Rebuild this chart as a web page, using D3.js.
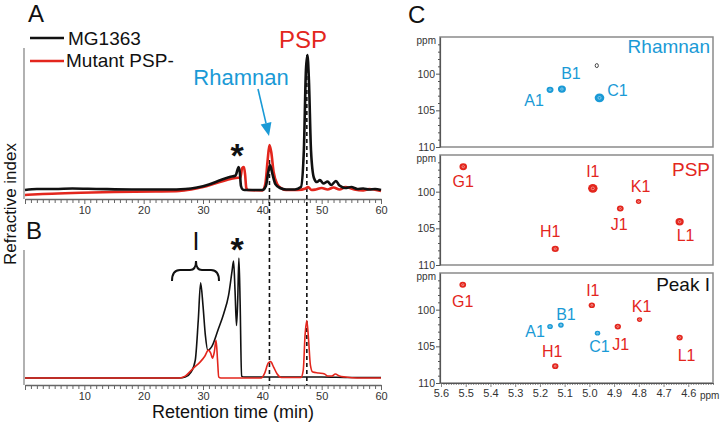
<!DOCTYPE html>
<html><head><meta charset="utf-8">
<script src="https://cdn.jsdelivr.net/npm/d3@7"></script>
<style>body{margin:0;background:#fff}svg{display:block}text{font-family:"Liberation Sans",Arial,sans-serif}</style>
</head><body><svg id="c" width="720" height="424"></svg>
<script>
// ---------- DATA ----------
// Panel A traces: [retention time (min), signal (a.u.)]
const traceA_MG1363 = [[0,0.7],[2,1.5],[5,1.5],[8,1.8],[12,1.5],[18,1.1],[24,1.1],[27,1.5],[29,2.6],[31,4.8],[33,8.1],[34.5,10.3],[35.5,11.4],[35.8,15.4],[36.0,17.6],[36.2,14],[36.4,3.7],[36.7,1.1],[37,0.7],[40,0.7],[40.6,3.7],[41.0,14],[41.3,19],[41.7,12.5],[42.2,5.1],[43,2.2],[44,1.1],[45.5,1.1],[46.5,2.9],[47.0,30],[47.35,89],[47.6,100],[47.85,81.6],[48.2,30],[48.7,9.6],[49.2,6.6],[49.7,8],[50.3,5.5],[51.0,7],[51.6,4.4],[52.4,7.4],[53.0,4],[54,2.2],[55,2.9],[56,1.5],[57,1.8],[58,1.1],[59,1.5],[60,0.7]];
const traceA_mutant = [[0,-2.9],[3,-2.2],[8,-1.5],[15,-0.7],[22,-0.4],[26,0],[28,1.1],[30,2.9],[32,5.5],[34,8.1],[35.5,9.6],[36.3,9.9],[36.6,16.9],[36.9,17.6],[37.1,11.8],[37.3,2.2],[37.6,0.7],[40,0.4],[40.5,5.1],[40.9,22.8],[41.2,33.8],[41.5,28.7],[41.9,14],[42.5,5.1],[43.3,1.8],[44,0.7],[46,0.7],[47.3,1.8],[47.7,2.9],[48.3,0.7],[49,1.1],[50,2.2],[51,1.1],[52,2.6],[53,1.1],[54,2.9],[55.5,1.1],[57,0.4],[58,1.5],[60,0]];
// Panel B traces
const traceB_MG1363 = [[0,0],[10,0],[20,0],[26,0],[27,0.8],[28,4.9],[28.7,14.8],[29.2,47.5],[29.6,78.7],[30.0,59.8],[30.4,35.2],[30.8,23],[31.5,26.2],[32.5,39.3],[33.5,53.3],[34.3,68],[34.9,88.5],[35.15,96.7],[35.4,72],[35.65,43.4],[35.85,64],[36.05,99.2],[36.25,64],[36.5,1.6],[37,0.8],[40,0.8],[45,0.8],[50,0.8],[55,0.4],[60,0.4]];
const traceB_mutant = [[0,0],[26,0],[27,1.6],[28.4,8.2],[29.5,13.1],[30.3,18],[30.9,23],[31.3,20.5],[31.6,16.4],[31.9,21.3],[32.2,31.1],[32.45,14.8],[32.65,0.8],[33,0],[39.8,0],[40.4,4.1],[41.0,12.3],[41.4,13.5],[41.9,9],[42.5,3.3],[43.2,0.4],[46.5,0.4],[46.9,6.6],[47.2,35.2],[47.5,47.5],[47.8,31.1],[48.1,10.7],[48.5,4.9],[49.5,4.1],[50.5,3.3],[51,1.6],[51.7,1.6],[52.3,3.3],[53,1.6],[54,0.8],[56,0],[60,0]];
const seriesNames = ["MG1363", "Mutant PSP-"];
const markerTimes = [41.2, 47.5];           // dashed guide lines (min)
const timeTicks = [10, 20, 30, 40, 50, 60];
// Panel C: HSQC anomeric cross-peaks [label, 1H ppm, 13C ppm, intensity, group]
const spotsRhamnan = [["A1",5.159,102.2,3.3,"rha"],["B1",5.111,102.1,3.8,"rha"],["C1",4.959,103.3,4.6,"rha"],["",4.970,98.9,1,"other"]];
const spotsPSP = [["G1",5.510,96.6,3.6,"psp"],["I1",4.986,99.55,4.5,"psp"],["K1",4.801,101.35,2.6,"psp"],["J1",4.875,102.3,3.2,"psp"],["L1",4.635,104.1,3.9,"psp"],["H1",5.138,107.8,3.4,"psp"]];
const spotsPeakI = [["G1",5.512,96.6,3.2,"psp"],["I1",4.990,99.4,3,"psp"],["A1",5.159,102.3,2.7,"rha"],["B1",5.115,102.1,2.7,"rha"],["C1",4.967,103.2,2.6,"rha"],["J1",4.885,102.3,3,"psp"],["K1",4.797,101.35,2.5,"psp"],["L1",4.635,103.8,3,"psp"],["H1",5.138,107.7,3,"psp"]];
const panelTitles = ["Rhamnan", "PSP", "Peak I"];
const ppmTicksH = [5.6,5.5,5.4,5.3,5.2,5.1,5.0,4.9,4.8,4.7,4.6];
const ppmTicksC = [100,105,110];

// ---------- LAYOUT / STYLE ----------
const BLACK="#111", RED="#e3261d", BLUE="#1a9ad6";
const svg = d3.select("#c");
const x = d3.scaleLinear([0,60],[25,381]);
const yA = d3.scaleLinear([0,100],[191,55]);
const yB = d3.scaleLinear([0,100],[378,257]);
const line = (ys) => d3.line().x(d=>x(d[0])).y(d=>ys(d[1])).curve(d3.curveMonotoneX);

function timeAxis(yPos){
  const g = svg.append("g").attr("transform",`translate(0,${yPos})`)
    .call(d3.axisBottom(x).tickValues(d3.range(0,61,1)).tickSizeInner(4).tickSizeOuter(0).tickPadding(3)
      .tickFormat(d=>timeTicks.includes(d)?d:""));
  g.select(".domain").attr("stroke","#666").attr("stroke-width",1.3);
  g.selectAll(".tick line").attr("stroke","#666").attr("y2",d=>d%10===0?5:4);
  g.selectAll(".tick text").attr("font-size",11).attr("fill","#333").attr("font-family","Liberation Sans, Arial");
}
// left spines
svg.append("line").attr("x1",24).attr("x2",24).attr("y1",48).attr("y2",199).attr("stroke","#888").attr("stroke-width",1.3);
svg.append("line").attr("x1",24).attr("x2",24).attr("y1",250).attr("y2",385).attr("stroke","#888").attr("stroke-width",1.3);
timeAxis(199); timeAxis(385);

// dashed guides
const guideTop = [160, 55];
markerTimes.forEach((t,i)=>{
  svg.append("line").attr("x1",x(t)).attr("x2",x(t)).attr("y1",guideTop[i]).attr("y2",385)
    .attr("stroke",BLACK).attr("stroke-width",1.6).attr("stroke-dasharray","4,3");
});

// traces
svg.append("path").datum(traceA_mutant).attr("d",line(yA)).attr("fill","none").attr("stroke",RED).attr("stroke-width",2.6);
svg.append("path").datum(traceA_MG1363).attr("d",line(yA)).attr("fill","none").attr("stroke",BLACK).attr("stroke-width",2.6);
svg.append("path").datum(traceB_MG1363).attr("d",line(yB)).attr("fill","none").attr("stroke",BLACK).attr("stroke-width",1.6);
svg.append("path").datum(traceB_mutant).attr("d",line(yB)).attr("fill","none").attr("stroke",RED).attr("stroke-width",1.6);

// legend
[[BLACK,38,45],[RED,61,67]].forEach((s,i)=>{
  svg.append("line").attr("x1",30).attr("x2",64).attr("y1",s[1]).attr("y2",s[1]).attr("stroke",s[0]).attr("stroke-width",2.6);
  svg.append("text").attr("x",i?66:68).attr("y",s[2]).attr("font-size",19).attr("fill",BLACK).text(seriesNames[i]);
});

// annotations
const T = (xx,yy,txt,size,col,anchor="start",weight="normal")=>svg.append("text").attr("x",xx).attr("y",yy).attr("font-size",size).attr("fill",col).attr("text-anchor",anchor).attr("font-weight",weight).text(txt);
T(28,22,"A",24,BLACK); T(26,239,"B",24,BLACK); T(408,23,"C",24,BLACK);
T(303,48,"PSP",24,RED,"middle");
T(241,85,"Rhamnan",22,BLUE,"middle");
T(237,167,"*",34,BLACK,"middle","bold");
T(237,261,"*",34,BLACK,"middle","bold");
T(196,250,"I",25,BLACK,"middle");
svg.append("text").attr("transform","translate(16,204) rotate(-90)").attr("text-anchor","middle").attr("font-size",17).attr("fill",BLACK).text("Refractive index");
T(233,418,"Retention time (min)",18,BLACK,"middle");
// bracket
svg.append("path").attr("d","M172,281 Q172,270 180,270 L190,270 Q196,270 196,261 Q196,270 202,270 L211,270 Q219,270 219,281")
  .attr("fill","none").attr("stroke",BLACK).attr("stroke-width",2);
// arrow
(function(){
  const x1=258,y1=89,x2=269,y2=136, a=Math.atan2(y2-y1,x2-x1), L=13, W=5.5;
  const bx=x2-L*Math.cos(a), by=y2-L*Math.sin(a);
  svg.append("line").attr("x1",x1).attr("y1",y1).attr("x2",bx).attr("y2",by).attr("stroke",BLUE).attr("stroke-width",1.6);
  svg.append("polygon").attr("fill",BLUE).attr("points",[[x2,y2],[bx+W*Math.sin(a),by-W*Math.cos(a)],[bx-W*Math.sin(a),by+W*Math.cos(a)]].map(p=>p.join(",")).join(" "));
})();

// ---------- PANEL C ----------
const xC = d3.scaleLinear([5.6,4.5],[441,713]);
const tops = [37,155,273], H = 110;
const allSpots = [spotsRhamnan, spotsPSP, spotsPeakI];
const titleColors = [BLUE, RED, BLACK];
const labelOff = [
  {A1:[-16,16],B1:[9,-10],C1:[18,-2]},
  {G1:[0,20],I1:[0,-11],K1:[2,-10],J1:[-1,21],L1:[6,19],H1:[-5,-12]},
  {G1:[0,22],I1:[1,-9],A1:[-15,10],B1:[5,-5],C1:[2,19],J1:[3,23],K1:[2,-8],L1:[7,23],H1:[-3,-9]}
];
const groupColor = {rha:BLUE, psp:RED, other:"#333"};
const isMajorH = d=>ppmTicksH.some(v=>Math.abs(v-d)<1e-6);
tops.forEach((top,i)=>{
  const yC = d3.scaleLinear([95,110],[top,top+H]);
  const g = svg.append("g");
  g.append("rect").attr("x",440).attr("y",top).attr("width",273).attr("height",H).attr("fill","none").attr("stroke","#8a8a8a").attr("stroke-width",1.5);
  const ax = g.append("g").attr("transform","translate(440,0)")
    .call(d3.axisLeft(yC).tickValues(d3.range(96,111,1)).tickSizeInner(2).tickSizeOuter(0).tickPadding(3).tickFormat(d=>ppmTicksC.includes(d)?d:""));
  ax.select(".domain").attr("stroke","#555").attr("stroke-width",1.2);
  ax.selectAll(".tick line").attr("stroke","#555").attr("x2",d=>ppmTicksC.includes(d)?-4:-2);
  ax.selectAll(".tick text").attr("font-size",10.5).attr("fill","#333").attr("font-family","Liberation Sans, Arial");
  g.append("text").attr("x",436).attr("y",top+7).attr("text-anchor","end").attr("font-size",10).attr("fill","#333").text("ppm");
  g.append("text").attr("x",710).attr("y",top+[16,21,18][i]).attr("text-anchor","end").attr("font-size",19).attr("fill",titleColors[i]).text(panelTitles[i]);
  allSpots[i].forEach(s=>{
    const cx=xC(s[1]), cy=yC(s[2]), r=s[3], col=groupColor[s[4]];
    if(s[4]==="other"){
      g.append("ellipse").attr("cx",cx).attr("cy",cy).attr("rx",r*1.6).attr("ry",r*2).attr("fill","none").attr("stroke",col).attr("stroke-width",0.9);
    } else {
      g.append("ellipse").attr("cx",cx).attr("cy",cy).attr("rx",r*1.05).attr("ry",r*0.95).attr("fill",col);
      g.append("ellipse").attr("cx",cx).attr("cy",cy).attr("rx",r*0.35).attr("ry",r*0.3).attr("fill","none").attr("stroke","#fff").attr("stroke-opacity",0.6).attr("stroke-width",0.7);
    }
    if(s[0]){
      const o = labelOff[i][s[0]];
      g.append("text").attr("x",cx+o[0]).attr("y",cy+o[1]).attr("text-anchor","middle").attr("font-size",16).attr("fill",col).text(s[0]);
    }
  });
  if(i===2){
    const bx = g.append("g").attr("transform",`translate(0,${top+H})`)
      .call(d3.axisBottom(xC).tickValues(d3.range(0,111,1).map(k=>+(5.6-k*0.01).toFixed(2))).tickSizeInner(2).tickSizeOuter(0).tickPadding(4)
        .tickFormat(d=>isMajorH(d)?d3.format(".1f")(d):""));
    bx.select(".domain").attr("stroke","#555").attr("stroke-width",1.2);
    bx.selectAll(".tick line").attr("stroke","#555").attr("stroke-width",0.7).attr("y2",d=>isMajorH(d)?4:2);
    bx.selectAll(".tick text").attr("font-size",11).attr("fill","#333").attr("font-family","Liberation Sans, Arial");
    g.append("text").attr("x",700).attr("y",399).attr("font-size",10).attr("fill","#333").text("ppm");
  }
});
</script></body></html>
